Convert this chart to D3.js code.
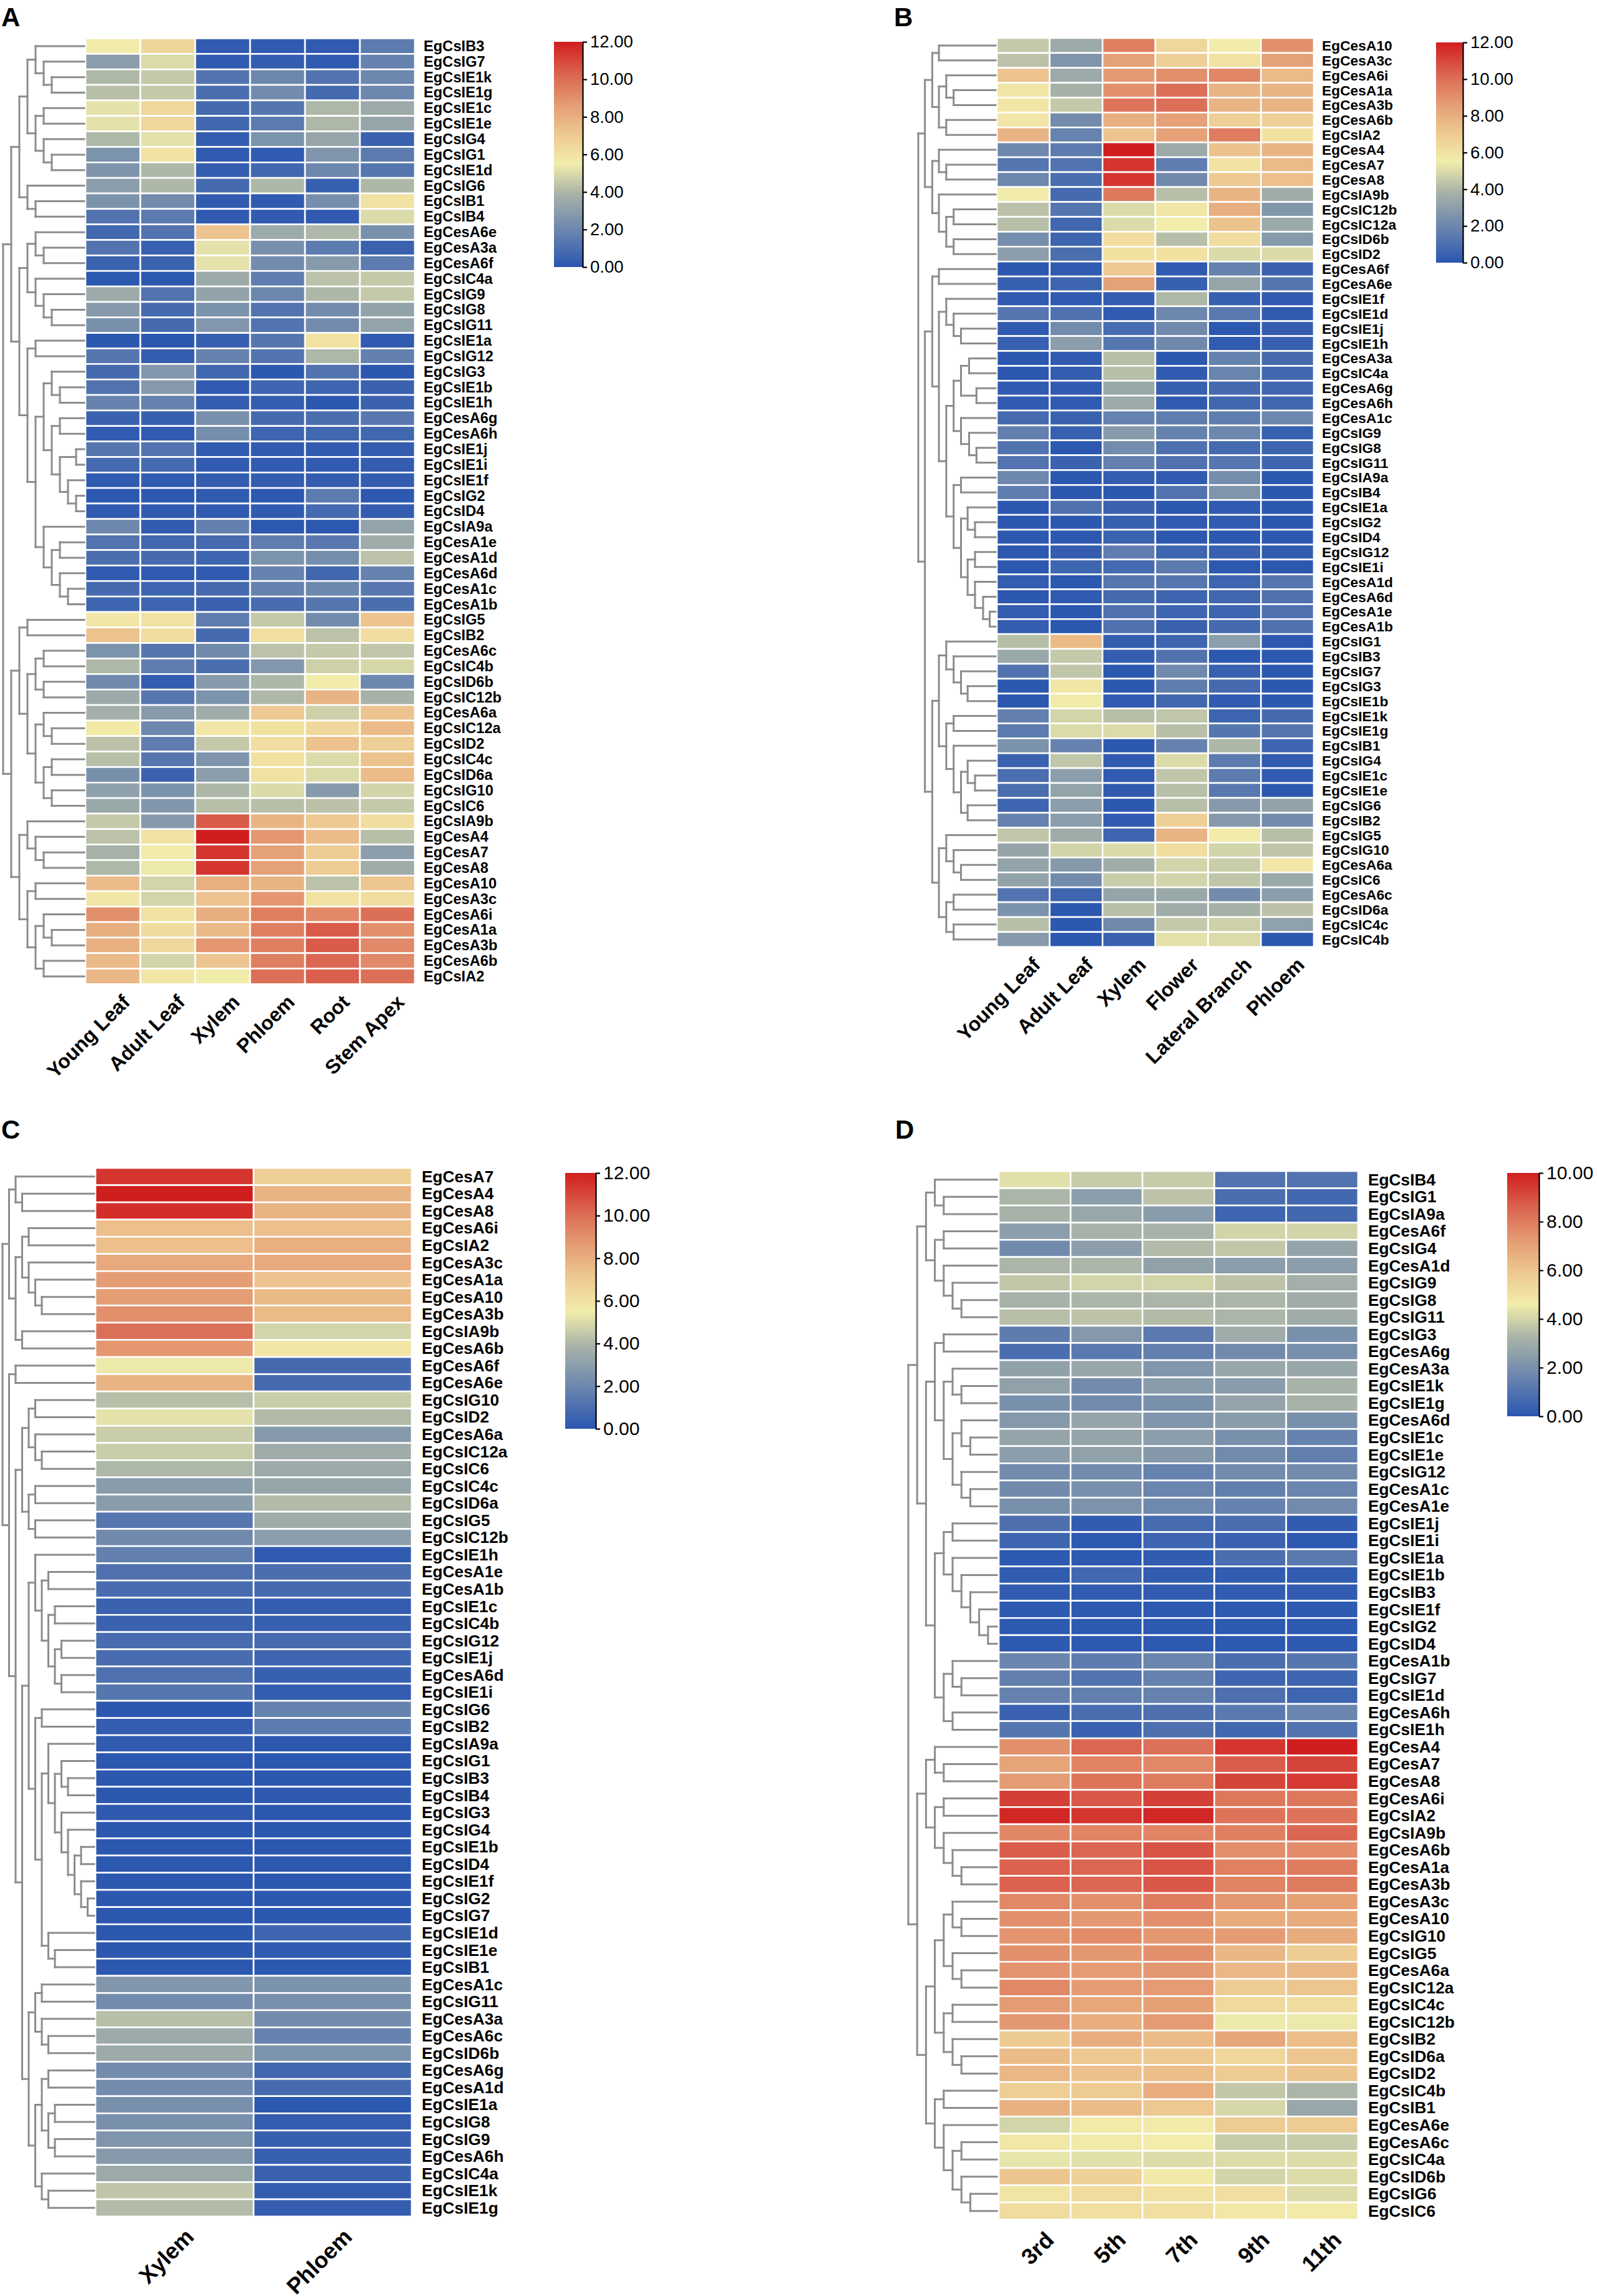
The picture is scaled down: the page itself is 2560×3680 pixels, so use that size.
<!doctype html>
<html>
  <head>
    <meta charset="utf-8">
    <script src="https://cdn.jsdelivr.net/npm/d3@7"></script>
    <style>
      body { margin: 0; background: #fff; }
      text { font-family: "Liberation Sans", Arial, sans-serif; }
    </style>
  </head>
  <body>
    <script>
    // ---------- data ----------
    var colsA = ["Young Leaf", "Adult Leaf", "Xylem", "Phloem", "Root", "Stem Apex"];
    var colsB = ["Young Leaf", "Adult Leaf", "Xylem", "Flower", "Lateral Branch", "Phloem"];
    var colsC = ["Xylem", "Phloem"];
    var colsD = ["3rd", "5th", "7th", "9th", "11th"];

    var ticks12 = [0, 2, 4, 6, 8, 10, 12];
    var ticks10 = [0, 2, 4, 6, 8, 10];

    var rowsA = ["EgCsIB3", "EgCsIG7", "EgCsIE1k", "EgCsIE1g", "EgCsIE1c", "EgCsIE1e", "EgCsIG4", "EgCsIG1", "EgCsIE1d", "EgCsIG6", "EgCsIB1", "EgCsIB4",
      "EgCesA6e", "EgCesA3a", "EgCesA6f", "EgCsIC4a", "EgCsIG9", "EgCsIG8", "EgCsIG11", "EgCsIE1a", "EgCsIG12", "EgCsIG3", "EgCsIE1b", "EgCsIE1h",
      "EgCesA6g", "EgCesA6h", "EgCsIE1j", "EgCsIE1i", "EgCsIE1f", "EgCsIG2", "EgCsID4", "EgCsIA9a", "EgCesA1e", "EgCesA1d", "EgCesA6d", "EgCesA1c",
      "EgCesA1b", "EgCsIG5", "EgCsIB2", "EgCesA6c", "EgCsIC4b", "EgCsID6b", "EgCsIC12b", "EgCesA6a", "EgCsIC12a", "EgCsID2", "EgCsIC4c", "EgCsID6a",
      "EgCsIG10", "EgCsIC6", "EgCsIA9b", "EgCesA4", "EgCesA7", "EgCesA8", "EgCesA10", "EgCesA3c", "EgCesA6i", "EgCesA1a", "EgCesA3b", "EgCesA6b", "EgCsIA2"];

    var valuesA = [
      [5.5, 6.5, 0.2, 0.2, 0.2, 1.5], [3.0, 5.0, 0.2, 0.3, 0.2, 1.8], [4.0, 4.5, 1.2, 2.0, 1.2, 2.0], [4.2, 4.5, 1.0, 2.2, 0.8, 2.0],
      [5.2, 6.5, 0.8, 1.3, 4.0, 3.5], [5.2, 6.5, 0.7, 1.5, 4.0, 3.3], [4.0, 5.2, 0.3, 2.5, 3.3, 0.5], [2.5, 6.0, 0.2, 0.2, 2.6, 1.5],
      [2.6, 4.0, 0.3, 0.7, 2.0, 1.3], [3.0, 4.0, 0.8, 4.0, 0.4, 4.0], [2.5, 2.2, 0.2, 0.2, 2.3, 6.0], [1.2, 1.5, 0.2, 0.2, 0.2, 5.0],
      [0.7, 1.2, 7.2, 3.5, 4.0, 2.4], [1.2, 0.4, 5.2, 2.4, 1.5, 0.5], [0.5, 0.5, 5.2, 2.2, 2.8, 1.5], [0.1, 0.1, 3.5, 1.6, 4.3, 4.5],
      [3.5, 1.2, 3.2, 2.0, 4.0, 4.5], [2.8, 0.8, 2.5, 1.2, 2.2, 3.2], [2.4, 0.8, 2.7, 1.2, 2.2, 3.2], [0.1, 0.1, 0.4, 1.3, 6.0, 0.2],
      [1.3, 0.3, 1.8, 1.2, 4.0, 1.7], [0.8, 2.7, 0.7, 0.1, 1.2, 0.1], [1.2, 2.8, 0.2, 0.6, 0.6, 0.5], [1.8, 1.8, 0.3, 0.3, 0.1, 0.5],
      [0.5, 0.4, 2.4, 0.8, 1.0, 1.4], [0.2, 0.2, 2.3, 0.6, 0.7, 0.7], [1.3, 1.2, 0.2, 0.2, 0.2, 0.3], [0.8, 0.8, 0.2, 0.2, 0.2, 0.3],
      [0.2, 0.2, 0.3, 0.3, 0.3, 0.3], [0.1, 0.1, 0.2, 0.1, 1.5, 0.1], [0.2, 0.2, 0.2, 0.2, 0.8, 0.3], [2.0, 0.2, 1.7, 0.1, 0.1, 3.2],
      [1.2, 0.7, 0.8, 1.6, 1.4, 3.6], [1.0, 0.8, 0.6, 2.5, 2.3, 4.3], [0.2, 0.2, 0.2, 1.8, 0.7, 1.8], [0.8, 0.6, 0.8, 1.8, 2.0, 1.4],
      [0.6, 0.6, 0.5, 0.9, 1.3, 1.0], [5.8, 6.0, 1.6, 4.5, 2.2, 7.2], [7.3, 6.2, 0.8, 6.1, 4.3, 6.2], [2.5, 1.3, 2.1, 4.3, 4.5, 4.4],
      [4.0, 1.6, 1.0, 2.7, 4.7, 4.9], [2.1, 0.3, 2.8, 4.0, 5.5, 2.0], [3.5, 1.3, 2.5, 4.0, 7.8, 3.8], [3.7, 2.8, 3.6, 7.0, 4.7, 7.2],
      [5.7, 2.0, 5.8, 6.0, 6.4, 7.5], [4.3, 1.6, 4.5, 6.2, 7.3, 6.8], [4.2, 1.3, 2.6, 6.0, 5.0, 7.3], [2.4, 0.5, 3.0, 6.0, 5.0, 7.5],
      [3.1, 2.5, 4.0, 5.0, 2.8, 4.8], [3.4, 2.7, 4.2, 4.2, 4.3, 4.5], [4.5, 2.8, 10.5, 7.8, 7.0, 6.2], [4.3, 6.0, 12.0, 8.8, 7.5, 4.2],
      [3.8, 5.6, 11.4, 8.5, 6.9, 3.0], [4.0, 5.4, 11.4, 8.5, 6.9, 3.6], [7.5, 4.8, 8.0, 7.8, 4.3, 7.1], [5.8, 4.8, 7.2, 8.8, 6.0, 6.2],
      [9.0, 6.0, 8.0, 9.5, 9.2, 10.0], [8.0, 6.3, 7.6, 9.5, 10.5, 9.0], [8.0, 6.4, 8.8, 9.5, 10.5, 9.2], [7.6, 4.8, 7.2, 9.5, 10.2, 9.2],
      [7.7, 5.8, 5.5, 10.0, 10.4, 10.0]
    ];

    var rowsB = ["EgCesA10", "EgCesA3c", "EgCesA6i", "EgCesA1a", "EgCesA3b", "EgCesA6b", "EgCsIA2", "EgCesA4", "EgCesA7", "EgCesA8", "EgCsIA9b",
      "EgCsIC12b", "EgCsIC12a", "EgCsID6b", "EgCsID2", "EgCesA6f", "EgCesA6e", "EgCsIE1f", "EgCsIE1d", "EgCsIE1j", "EgCsIE1h", "EgCesA3a",
      "EgCsIC4a", "EgCesA6g", "EgCesA6h", "EgCesA1c", "EgCsIG9", "EgCsIG8", "EgCsIG11", "EgCsIA9a", "EgCsIB4", "EgCsIE1a", "EgCsIG2", "EgCsID4",
      "EgCsIG12", "EgCsIE1i", "EgCesA1d", "EgCesA6d", "EgCesA1e", "EgCesA1b", "EgCsIG1", "EgCsIB3", "EgCsIG7", "EgCsIG3", "EgCsIE1b", "EgCsIE1k",
      "EgCsIE1g", "EgCsIB1", "EgCsIG4", "EgCsIE1c", "EgCsIE1e", "EgCsIG6", "EgCsIB2", "EgCsIG5", "EgCsIG10", "EgCesA6a", "EgCsIC6", "EgCesA6c",
      "EgCsID6a", "EgCsIC4c", "EgCsIC4b"];

    var valuesB = [
      [4.5, 3.5, 9.5, 6.5, 5.5, 9.0], [4.3, 2.6, 8.5, 6.8, 6.0, 8.5], [7.2, 3.5, 8.7, 9.0, 9.3, 7.6], [5.8, 3.8, 9.0, 10.0, 7.8, 7.8],
      [5.8, 4.5, 9.8, 10.0, 7.8, 7.8], [5.8, 2.2, 8.0, 8.5, 6.8, 6.8], [7.8, 1.8, 7.2, 8.5, 9.6, 6.0], [2.0, 1.5, 12.0, 3.5, 7.3, 7.8],
      [1.3, 1.2, 11.4, 1.6, 6.0, 7.6], [2.0, 1.0, 11.4, 2.1, 7.0, 7.4], [5.5, 0.8, 9.7, 4.2, 7.8, 3.6], [4.3, 1.3, 5.0, 5.8, 8.0, 2.7],
      [4.2, 0.7, 5.0, 5.5, 7.3, 3.5], [2.3, 0.6, 6.2, 4.2, 6.2, 2.8], [3.0, 1.0, 6.0, 6.0, 5.0, 5.0], [0.1, 0.2, 7.0, 0.2, 1.8, 0.5],
      [0.4, 0.6, 8.5, 0.4, 3.3, 1.3], [0.2, 0.2, 0.3, 4.0, 0.4, 0.2], [1.3, 1.1, 0.2, 2.0, 1.4, 0.2], [0.2, 2.2, 0.9, 2.1, 0.1, 0.3],
      [0.4, 3.0, 1.3, 2.1, 0.2, 0.4], [0.1, 0.2, 4.2, 0.1, 1.8, 0.8], [0.1, 0.3, 4.2, 0.2, 1.9, 0.7], [0.2, 0.2, 3.4, 0.4, 0.8, 0.7],
      [0.2, 0.2, 3.5, 0.2, 0.7, 0.7], [0.8, 0.5, 1.8, 1.6, 1.6, 2.0], [1.7, 0.4, 2.8, 1.8, 2.0, 0.4], [1.2, 0.1, 2.2, 1.1, 0.8, 0.6],
      [1.2, 0.5, 1.7, 1.1, 1.3, 0.6], [2.0, 0.1, 0.3, 0.2, 2.3, 0.1], [1.6, 0.1, 0.1, 1.2, 2.6, 0.1], [0.1, 1.1, 0.5, 0.1, 0.2, 0.1],
      [0.1, 0.1, 0.4, 0.2, 0.2, 0.1], [0.1, 0.1, 0.5, 0.1, 0.1, 0.1], [0.1, 0.3, 1.6, 0.6, 0.4, 0.2], [0.1, 0.6, 0.8, 1.5, 0.1, 0.1],
      [0.3, 0.1, 1.3, 1.3, 0.6, 1.3], [0.1, 0.2, 0.8, 0.6, 0.7, 1.1], [0.3, 0.1, 1.1, 0.6, 0.6, 1.1], [0.3, 0.1, 1.1, 0.5, 0.8, 1.1],
      [4.2, 7.6, 0.3, 0.6, 3.0, 0.1], [3.4, 4.5, 0.3, 1.2, 0.1, 0.1], [1.2, 4.4, 0.1, 2.1, 0.4, 0.1], [0.1, 5.8, 0.1, 1.6, 0.8, 0.1],
      [0.1, 5.5, 0.2, 0.7, 0.2, 0.1], [1.7, 4.8, 4.2, 4.4, 0.6, 0.8], [1.5, 5.0, 5.0, 4.2, 1.3, 1.3], [2.5, 1.8, 0.1, 1.8, 4.0, 0.6],
      [0.5, 4.4, 0.2, 5.0, 1.5, 0.2], [1.0, 3.0, 0.2, 4.4, 1.5, 0.2], [1.0, 3.2, 0.2, 4.2, 1.4, 0.1], [0.6, 3.0, 0.1, 4.2, 2.8, 3.2],
      [1.8, 3.0, 0.2, 6.8, 2.8, 2.2], [4.4, 3.6, 0.6, 7.8, 5.6, 4.2], [3.3, 4.8, 5.0, 6.2, 4.8, 4.4], [3.2, 2.8, 3.6, 4.8, 4.6, 5.8],
      [3.2, 2.2, 4.6, 4.8, 4.4, 3.4], [1.2, 0.6, 3.3, 3.4, 2.2, 3.0], [2.5, 0.1, 4.2, 3.6, 3.8, 4.3], [4.2, 0.1, 2.1, 4.5, 4.7, 3.1],
      [2.8, 0.1, 0.5, 5.2, 5.0, 0.1]
    ];

    var rowsC = ["EgCesA7", "EgCesA4", "EgCesA8", "EgCesA6i", "EgCsIA2", "EgCesA3c", "EgCesA1a", "EgCesA10", "EgCesA3b", "EgCsIA9b", "EgCesA6b",
      "EgCesA6f", "EgCesA6e", "EgCsIG10", "EgCsID2", "EgCesA6a", "EgCsIC12a", "EgCsIC6", "EgCsIC4c", "EgCsID6a", "EgCsIG5", "EgCsIC12b",
      "EgCsIE1h", "EgCesA1e", "EgCesA1b", "EgCsIE1c", "EgCsIC4b", "EgCsIG12", "EgCsIE1j", "EgCesA6d", "EgCsIE1i", "EgCsIG6", "EgCsIB2",
      "EgCsIA9a", "EgCsIG1", "EgCsIB3", "EgCsIB4", "EgCsIG3", "EgCsIG4", "EgCsIE1b", "EgCsID4", "EgCsIE1f", "EgCsIG2", "EgCsIG7", "EgCsIE1d",
      "EgCsIE1e", "EgCsIB1", "EgCesA1c", "EgCsIG11", "EgCesA3a", "EgCesA6c", "EgCsID6b", "EgCesA6g", "EgCesA1d", "EgCsIE1a", "EgCsIG8",
      "EgCsIG9", "EgCesA6h", "EgCsIC4a", "EgCsIE1k", "EgCsIE1g"];

    var valuesC = [
      [11.4, 6.8], [12.0, 7.8], [11.6, 7.8], [7.4, 7.4], [7.4, 8.0], [8.2, 8.2], [8.6, 7.2], [8.6, 7.6], [9.0, 7.6], [10.0, 4.8],
      [8.8, 5.8], [5.4, 0.8], [7.8, 0.8], [4.2, 4.6], [5.2, 4.1], [4.6, 2.8], [4.6, 3.6], [4.0, 3.5], [2.9, 3.3], [2.9, 4.1],
      [1.3, 3.6], [2.1, 3.0], [1.7, 0.2], [1.1, 1.0], [0.9, 0.8], [0.5, 0.3], [0.5, 0.4], [0.9, 0.8], [0.9, 0.6], [1.1, 0.4],
      [1.3, 0.3], [0.1, 1.8], [0.3, 1.5], [0.2, 0.1], [0.1, 0.1], [0.1, 0.1], [0.1, 0.15], [0.15, 0.1], [0.1, 0.1], [0.1, 0.1],
      [0.1, 0.1], [0.1, 0.1], [0.1, 0.1], [0.1, 0.1], [0.1, 0.6], [0.1, 0.2], [0.1, 0.1], [2.7, 2.5], [2.2, 2.4], [4.2, 2.2],
      [3.5, 1.8], [3.5, 2.5], [2.2, 0.7], [2.2, 0.8], [2.4, 0.1], [2.4, 0.3], [2.6, 0.4], [2.8, 0.4], [3.5, 0.5], [4.4, 0.3],
      [4.1, 0.3]
    ];

    var rowsD = ["EgCsIB4", "EgCsIG1", "EgCsIA9a", "EgCesA6f", "EgCsIG4", "EgCesA1d", "EgCsIG9", "EgCsIG8", "EgCsIG11", "EgCsIG3", "EgCesA6g",
      "EgCesA3a", "EgCsIE1k", "EgCsIE1g", "EgCesA6d", "EgCsIE1c", "EgCsIE1e", "EgCsIG12", "EgCesA1c", "EgCesA1e", "EgCsIE1j", "EgCsIE1i",
      "EgCsIE1a", "EgCsIE1b", "EgCsIB3", "EgCsIE1f", "EgCsIG2", "EgCsID4", "EgCesA1b", "EgCsIG7", "EgCsIE1d", "EgCesA6h", "EgCsIE1h",
      "EgCesA4", "EgCesA7", "EgCesA8", "EgCesA6i", "EgCsIA2", "EgCsIA9b", "EgCesA6b", "EgCesA1a", "EgCesA3b", "EgCesA3c", "EgCesA10",
      "EgCsIG10", "EgCsIG5", "EgCesA6a", "EgCsIC12a", "EgCsIC4c", "EgCsIC12b", "EgCsIB2", "EgCsID6a", "EgCsID2", "EgCsIC4b", "EgCsIB1",
      "EgCesA6e", "EgCesA6c", "EgCsIC4a", "EgCsID6b", "EgCsIG6", "EgCsIC6"];

    var valuesD = [
      [4.3, 3.8, 3.8, 1.0, 1.0], [3.3, 2.5, 3.6, 0.8, 0.6], [3.2, 2.8, 2.4, 0.5, 0.6], [2.5, 3.2, 3.2, 4.0, 4.0],
      [1.8, 2.5, 3.4, 3.7, 2.7], [3.3, 3.3, 2.6, 2.5, 2.5], [3.7, 4.0, 4.0, 3.6, 3.1], [3.2, 3.3, 3.3, 3.3, 3.0],
      [3.5, 3.6, 3.4, 3.3, 3.0], [1.3, 2.3, 1.2, 3.0, 2.0], [0.8, 1.2, 1.4, 1.8, 2.0], [2.6, 2.8, 2.2, 2.8, 2.8],
      [2.6, 1.8, 2.4, 2.4, 3.2], [2.0, 1.8, 2.0, 2.7, 3.2], [2.3, 2.7, 2.2, 2.4, 2.0], [2.7, 2.7, 2.5, 2.0, 1.5],
      [2.5, 2.6, 2.3, 1.8, 1.4], [1.8, 1.8, 1.5, 1.8, 1.8], [1.8, 2.0, 1.6, 1.4, 1.6], [2.0, 2.1, 1.7, 1.5, 1.8],
      [0.9, 0.2, 0.7, 0.8, 0.2], [0.5, 0.1, 0.5, 0.4, 0.1], [0.1, 0.1, 0.2, 0.8, 1.2], [0.2, 0.6, 0.2, 0.2, 0.2],
      [0.2, 0.2, 0.2, 0.2, 0.2], [0.1, 0.1, 0.1, 0.1, 0.1], [0.1, 0.1, 0.1, 0.1, 0.1], [0.1, 0.1, 0.1, 0.1, 0.1],
      [1.6, 1.3, 1.6, 0.8, 1.1], [1.4, 1.0, 1.5, 0.5, 0.5], [1.5, 1.4, 1.5, 0.9, 0.5], [0.4, 0.8, 0.9, 1.2, 1.6],
      [1.1, 0.4, 0.9, 0.6, 1.0], [7.5, 8.5, 8.3, 9.5, 10.0], [7.0, 7.8, 7.7, 8.7, 9.2], [7.2, 8.2, 8.0, 9.2, 9.4],
      [9.3, 8.8, 9.3, 8.1, 8.1], [9.8, 9.5, 9.8, 8.2, 8.2], [7.7, 7.8, 7.8, 7.9, 8.5], [8.7, 8.5, 8.9, 7.5, 7.6],
      [8.6, 8.5, 8.9, 7.9, 8.0], [8.6, 8.5, 8.8, 7.8, 8.0], [7.7, 7.5, 8.0, 7.3, 7.1], [7.5, 7.3, 7.5, 6.8, 6.8],
      [7.4, 7.6, 7.3, 7.2, 6.8], [7.5, 7.3, 7.5, 6.4, 5.7], [7.4, 7.2, 7.3, 6.4, 6.4], [7.7, 7.2, 7.2, 5.8, 6.0],
      [7.2, 6.9, 7.1, 5.3, 5.2], [7.3, 6.7, 7.2, 4.5, 4.5], [5.8, 6.7, 6.3, 6.9, 6.2], [6.3, 5.9, 5.9, 5.4, 6.0],
      [6.4, 6.1, 6.2, 5.8, 6.0], [5.7, 5.8, 6.7, 3.7, 3.3], [6.6, 6.3, 5.9, 4.1, 2.8], [4.0, 4.7, 4.7, 5.8, 5.8],
      [4.8, 4.7, 4.6, 3.8, 3.8], [4.4, 4.3, 4.2, 4.2, 4.2], [6.0, 5.6, 4.7, 4.0, 4.2], [4.9, 5.2, 5.0, 5.1, 4.2],
      [5.2, 5.1, 5.1, 4.8, 4.7]
    ];

    // row dendrograms: [merge height, left, right]
    var treeA = [10,
      [9,
        [8,
          [7,
            [6, "EgCsIB3", [5, "EgCsIG7", [4, "EgCsIE1k", "EgCsIE1g"]]],
            [6, [5, "EgCsIE1c", "EgCsIE1e"], [5, "EgCsIG4", [4, "EgCsIG1", "EgCsIE1d"]]]],
          [7, "EgCsIG6", [6, "EgCsIB1", "EgCsIB4"]]],
        [8,
          [7, [6, "EgCesA6e", [5, "EgCesA3a", "EgCesA6f"]], [6, "EgCsIC4a", [5, "EgCsIG9", [4, "EgCsIG8", "EgCsIG11"]]]],
          [7, [6, "EgCsIE1a", "EgCsIG12"],
            [6,
              [5, [4, "EgCsIG3", [3, "EgCsIE1b", "EgCsIE1h"]], [4, [3, "EgCesA6g", "EgCesA6h"], [3, [1, "EgCsIE1j", "EgCsIE1i"], [2, "EgCsIE1f", [1, "EgCsIG2", "EgCsID4"]]]]],
              [5, "EgCsIA9a", [4, [3, "EgCesA1e", "EgCesA1d"], [3, "EgCesA6d", [2, "EgCesA1c", "EgCesA1b"]]]]]]]],
      [9,
        [8, [7, "EgCsIG5", "EgCsIB2"], [7, [6, [5, "EgCesA6c", "EgCsIC4b"], [5, "EgCsID6b", "EgCsIC12b"]], [6, [5, "EgCesA6a", [4, "EgCsIC12a", "EgCsID2"]], [5, [4, "EgCsIC4c", "EgCsID6a"], [4, "EgCsIG10", "EgCsIC6"]]]]],
        [8, [7, "EgCsIA9b", [6, "EgCesA4", [5, "EgCesA7", "EgCesA8"]]], [7, [6, "EgCesA10", "EgCesA3c"], [6, [5, "EgCesA6i", [4, "EgCesA1a", "EgCesA3b"]], [5, "EgCesA6b", "EgCsIA2"]]]]]];

    var treeB = [10.5,
      [9.6,
        [8.6, [7.7, "EgCesA10", "EgCesA3c"], [7.7, [6.7, "EgCesA6i", [5.7, "EgCesA1a", "EgCesA3b"]], [6.7, "EgCesA6b", "EgCsIA2"]]],
        [8.6, [7.7, "EgCesA4", [6.7, "EgCesA7", "EgCesA8"]], [7.7, "EgCsIA9b", [6.7, [5.7, "EgCsIC12b", "EgCsIC12a"], [5.7, "EgCsID6b", "EgCsID2"]]]]],
      [9.6,
        [8.6, [7.7, "EgCesA6f", "EgCesA6e"],
          [7.7,
            [6.7, "EgCsIE1f", [5.7, "EgCsIE1d", [4.7, "EgCsIE1j", "EgCsIE1h"]]],
            [6.7,
              [5.7, [4.7, [3.6, "EgCesA3a", "EgCsIC4a"], [2.6, "EgCesA6g", "EgCesA6h"]], [4.7, "EgCesA1c", [3.6, "EgCsIG9", [2.6, "EgCsIG8", "EgCsIG11"]]]],
              [5.7, [4.7, "EgCsIA9a", "EgCsIB4"], [4.7, [3.8, "EgCsIE1a", [2.8, "EgCsIG2", "EgCsID4"]], [3.8, [2.8, "EgCsIG12", "EgCsIE1i"], [2.8, "EgCesA1d", [1.7, "EgCesA6d", [0.8, "EgCesA1e", "EgCesA1b"]]]]]]]]],
        [8.6,
          [7.7, [6.7, "EgCsIG1", [5.7, "EgCsIB3", [4.7, "EgCsIG7", [3.8, "EgCsIG3", "EgCsIE1b"]]]], [6.7, [5.7, "EgCsIE1k", "EgCsIE1g"], [5.7, "EgCsIB1", [4.7, [3.8, "EgCsIG4", [2.8, "EgCsIE1c", "EgCsIE1e"]], [3.8, "EgCsIG6", "EgCsIB2"]]]]],
          [7.7, [6.7, "EgCsIG5", [5.7, "EgCsIG10", [4.7, "EgCesA6a", "EgCsIC6"]]], [6.7, [5.7, "EgCesA6c", "EgCsID6a"], [5.7, "EgCsIC4c", "EgCsIC4b"]]]]]];

    var treeC = [14,
      [13, [12, "EgCesA7", [11, "EgCesA4", "EgCesA8"]], [12, [11, [10, "EgCesA6i", "EgCsIA2"], [10, "EgCesA3c", [9, "EgCesA1a", [8, "EgCesA10", "EgCesA3b"]]]], [11, "EgCsIA9b", "EgCesA6b"]]],
      [13, [12, "EgCesA6f", "EgCesA6e"],
        [12,
          [11, [10, [9, "EgCsIG10", "EgCsID2"], [9, "EgCesA6a", [8, "EgCsIC12a", "EgCsIC6"]]], [10, [9, "EgCsIC4c", "EgCsID6a"], [9, "EgCsIG5", "EgCsIC12b"]]],
          [11,
            [10,
              [9, "EgCsIE1h", [8, [7, "EgCesA1e", "EgCesA1b"], [7, [6, "EgCsIE1c", "EgCsIC4b"], [6, [5, "EgCsIG12", "EgCsIE1j"], [5, "EgCesA6d", "EgCsIE1i"]]]]],
              [9, [8, "EgCsIG6", "EgCsIB2"], [8, [7, "EgCsIA9a", [6, [5, "EgCsIG1", [4, "EgCsIB3", "EgCsIB4"]], [5, "EgCsIG3", [4, "EgCsIG4", [3, [2, "EgCsIE1b", "EgCsID4"], [2, "EgCsIE1f", [1, "EgCsIG2", "EgCsIG7"]]]]]]], [7, "EgCsIE1d", [6, "EgCsIE1e", "EgCsIB1"]]]]],
            [10, [9, [8, "EgCesA1c", "EgCsIG11"], [8, "EgCesA3a", [7, "EgCesA6c", "EgCsID6b"]]], [9, [8, [7, "EgCesA6g", "EgCesA1d"], [7, [6, "EgCsIE1a", "EgCsIG8"], [6, "EgCsIG9", "EgCesA6h"]]], [8, "EgCsIC4a", [7, "EgCsIE1k", "EgCsIE1g"]]]]]]]];

    var treeD = [10,
      [9,
        [8, [7, "EgCsIB4", [6, "EgCsIG1", "EgCsIA9a"]], [7, [6, "EgCesA6f", "EgCsIG4"], [6, "EgCesA1d", [5, "EgCsIG9", [4, "EgCsIG8", "EgCsIG11"]]]]],
        [8,
          [7, [6, "EgCsIG3", "EgCesA6g"], [6, [5, "EgCesA3a", [4, "EgCsIE1k", "EgCsIE1g"]], [5, [4, "EgCesA6d", [3, "EgCsIE1c", "EgCsIE1e"]], [4, "EgCsIG12", [3, "EgCesA1c", "EgCesA1e"]]]]],
          [7, [6, [5, "EgCsIE1j", "EgCsIE1i"], [5, "EgCsIE1a", [4, "EgCsIE1b", [3, "EgCsIB3", [2, "EgCsIE1f", [1, "EgCsIG2", "EgCsID4"]]]]]], [6, [5, "EgCesA1b", [4, "EgCsIG7", "EgCsIE1d"]], [5, "EgCesA6h", "EgCsIE1h"]]]]],
      [9,
        [8, [7, "EgCesA4", [6, "EgCesA7", "EgCesA8"]], [7, [6, "EgCesA6i", "EgCsIA2"], [6, "EgCsIA9b", [5, "EgCesA6b", [4, "EgCesA1a", "EgCesA3b"]]]]],
        [8,
          [7, [6, [5, "EgCesA3c", [4, "EgCesA10", "EgCsIG10"]], [5, "EgCsIG5", [4, "EgCesA6a", "EgCsIC12a"]]], [6, [5, "EgCsIC4c", "EgCsIC12b"], [5, "EgCsIB2", [4, "EgCsID6a", "EgCsID2"]]]],
          [7, [6, "EgCsIC4b", "EgCsIB1"], [6, "EgCesA6e", [5, [4, "EgCesA6c", "EgCsIC4a"], [4, "EgCsID6b", [3, "EgCsIG6", "EgCsIC6"]]]]]]]];

    // ---------- layout ----------
    var panels = [
      {letter: "A", rows: rowsA, cols: colsA, values: valuesA, tree: treeA, max: 12, ticks: ticks12,
       heatX: [137, 665], top: 61.5, rowH: 24.85, dendro: [135, 5], labelX: 679, rowFont: 23.7, colFont: 32,
       leg: [888, 934, 67, 428], legFont: 27.5, letterPos: [2, 42]},
      {letter: "B", rows: rowsB, cols: colsB, values: valuesB, tree: treeB, max: 12, ticks: ticks12,
       heatX: [1598, 2106], top: 61, rowH: 23.88, dendro: [1596, 1472], labelX: 2119, rowFont: 22.8, colFont: 32,
       leg: [2302, 2345, 68, 421], legFont: 27.5, letterPos: [1433, 42]},
      {letter: "C", rows: rowsC, cols: colsC, values: valuesC, tree: treeC, max: 12, ticks: ticks12,
       heatX: [153, 660], top: 1872, rowH: 27.55, dendro: [151, 4], labelX: 676, rowFont: 26.3, colFont: 36,
       leg: [906, 955, 1880, 2290], legFont: 30, letterPos: [2, 1825]},
      {letter: "D", rows: rowsD, cols: colsD, values: valuesD, tree: treeD, max: 10, ticks: ticks10,
       heatX: [1601, 2177], top: 1877, rowH: 27.55, dendro: [1598, 1456], labelX: 2193, rowFont: 26.3, colFont: 36,
       leg: [2416, 2467, 1880, 2270], legFont: 30, letterPos: [1435, 1825]}
    ];

    var colorStops = [0, 0.16, 0.32, 0.46, 0.58, 0.70, 0.84, 1];
    var colorRange = ["#2a56b0", "#6a85ae", "#a7b2a8", "#f2edaa", "#eecb93", "#e6a479", "#dc6c55", "#d01e1e"];

    var svg = d3.select("body")
              .append("svg")
              .attr("width", 2560)
              .attr("height", 3680);

    svg.append("rect").attr("width", 2560).attr("height", 3680).attr("fill", "#fff");

    var defs = svg.append("defs");

    panels.forEach(function(p) {
      var g = svg.append("g");

      var color = d3.scaleLinear()
                    .domain(colorStops.map(function(s) { return s * p.max; }))
                    .range(colorRange)
                    .interpolate(d3.interpolateRgb)
                    .clamp(true);

      var x = d3.scaleBand().domain(p.cols).range(p.heatX);
      var y = d3.scaleBand().domain(p.rows).range([p.top, p.top + p.rowH * p.rows.length]);
      var bottom = p.top + p.rowH * p.rows.length;

      //Cells
      var cells = [];
      p.rows.forEach(function(r, i) {
        p.cols.forEach(function(c, j) {
          cells.push({row: r, col: c, v: p.values[i][j]});
        });
      });

      g.selectAll(".cell")
        .data(cells)
        .enter()
        .append("rect")
        .attr("class", "cell")
        .attr("x", function(d) { return x(d.col); })
        .attr("y", function(d) { return y(d.row); })
        .attr("width", x.bandwidth())
        .attr("height", y.bandwidth())
        .attr("fill", function(d) { return color(d.v); })
        .attr("stroke", "#fff")
        .attr("stroke-width", 2.6);

      //Row labels
      g.selectAll(".rowlab")
        .data(p.rows)
        .enter()
        .append("text")
        .attr("class", "rowlab")
        .attr("x", p.labelX)
        .attr("y", function(d) { return y(d) + y.bandwidth() / 2; })
        .attr("dominant-baseline", "central")
        .attr("font-weight", "bold")
        .attr("font-size", p.rowFont + "px")
        .text(function(d) { return d; });

      //Column labels, rotated 45 degrees
      g.selectAll(".collab")
        .data(p.cols)
        .enter()
        .append("text")
        .attr("class", "collab")
        .attr("transform", function(d) {
          var cx = x(d) + x.bandwidth() / 2 + p.colFont * 0.4;
          var cy = bottom + p.colFont * 0.45;
          return "translate(" + cx + "," + cy + ") rotate(-45)";
        })
        .attr("text-anchor", "end")
        .attr("dominant-baseline", "hanging")
        .attr("font-weight", "bold")
        .attr("font-size", p.colFont + "px")
        .text(function(d) { return d; });

      //Row dendrogram
      var root = d3.hierarchy(p.tree, function(d) { return Array.isArray(d) ? d.slice(1) : null; });
      var hx = d3.scaleLinear().domain([0, p.tree[0]]).range(p.dendro);

      root.eachAfter(function(n) {
        if (n.children) {
          n.h = n.data[0];
          n.py = d3.mean(n.children, function(c) { return c.py; });
        } else {
          n.h = 0;
          n.py = y(n.data) + y.bandwidth() / 2;
        }
      });

      var segs = [];
      root.each(function(n) {
        if (!n.children) return;
        segs.push([[hx(n.h), n.children[0].py], [hx(n.h), n.children[1].py]]);
        n.children.forEach(function(c) {
          segs.push([[hx(n.h), c.py], [hx(c.h), c.py]]);
        });
      });

      g.selectAll(".dendro")
        .data(segs)
        .enter()
        .append("path")
        .attr("class", "dendro")
        .attr("d", d3.line())
        .attr("fill", "none")
        .attr("stroke", "#8c8c8c")
        .attr("stroke-width", 3)
        .attr("stroke-linecap", "square");

      //Legend colour bar
      var gid = "grad" + p.letter;
      var grad = defs.append("linearGradient")
                     .attr("id", gid)
                     .attr("x1", 0).attr("y1", 1)
                     .attr("x2", 0).attr("y2", 0);
      grad.selectAll("stop")
        .data(d3.range(0, 1.0001, 0.02))
        .enter()
        .append("stop")
        .attr("offset", function(d) { return d; })
        .attr("stop-color", function(d) { return color(d * p.max); });

      g.append("rect")
        .attr("x", p.leg[0])
        .attr("y", p.leg[2])
        .attr("width", p.leg[1] - p.leg[0])
        .attr("height", p.leg[3] - p.leg[2])
        .attr("fill", "url(#" + gid + ")");

      var ls = d3.scaleLinear().domain([0, p.max]).range([p.leg[3], p.leg[2]]);
      var axis = g.append("g")
        .attr("transform", "translate(" + p.leg[1] + ",0)")
        .call(d3.axisRight(ls)
                .tickValues(p.ticks)
                .tickFormat(d3.format(".2f"))
                .tickSize(7)
                .tickPadding(5)
                .tickSizeOuter(0));
      axis.attr("font-family", "'Liberation Sans', Arial, sans-serif")
          .attr("font-size", p.legFont);
      axis.selectAll("path, line").attr("stroke-width", 2.2);

      //Panel letter
      svg.append("text")
        .attr("x", p.letterPos[0])
        .attr("y", p.letterPos[1])
        .attr("font-weight", "bold")
        .attr("font-size", "42px")
        .text(p.letter);
    });
    </script>
  </body>
</html>
